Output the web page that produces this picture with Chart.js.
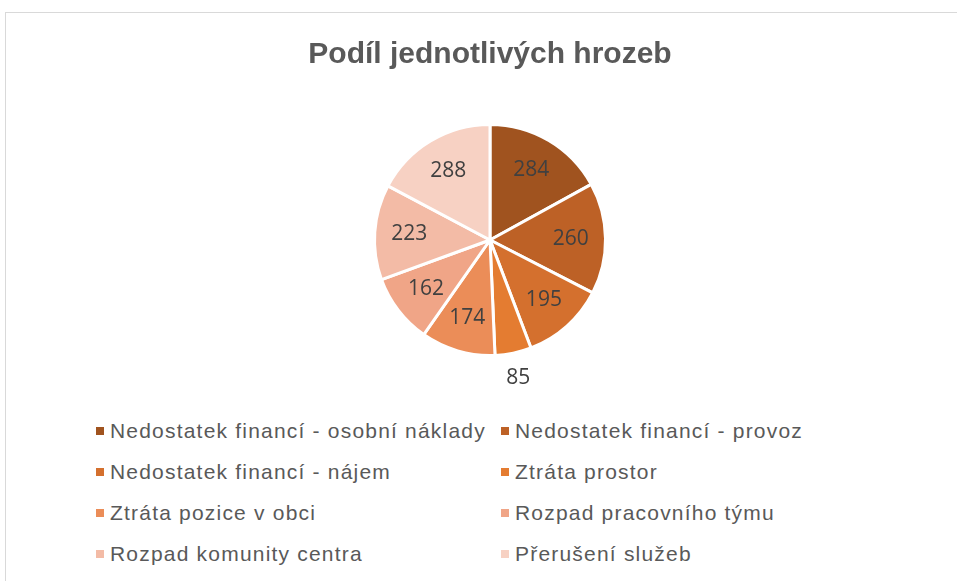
<!DOCTYPE html>
<html lang="cs">
<head>
<meta charset="utf-8">
<title>Podíl jednotlivých hrozeb</title>
<script src="https://cdn.jsdelivr.net/npm/chart.js@4.4.0/dist/chart.umd.min.js"></script>
<style>
  html, body { margin: 0; padding: 0; background: #fff; overflow: hidden; width: 957px; height: 581px; }
  #frame { position: absolute; left: 5px; top: 12px; width: 970px; height: 600px; border: 1px solid #d9d9d9; box-sizing: border-box; }
  #wrap { position: absolute; left: 0; top: 0; width: 968px; height: 386px; }
  #legend { position: absolute; left: 90px; top: 397px; display: grid; grid-template-columns: 405px auto; grid-auto-rows: 41px;
            font-family: "Liberation Sans", Arial, sans-serif; font-size: 21px; letter-spacing: 1.2px; color: #595959; }
  #legend div { display: flex; align-items: center; white-space: nowrap; }
  #legend span.box { display: inline-block; width: 8px; height: 8px; margin-right: 6px; }
</style>
</head>
<body>
<div id="frame">
  <div id="wrap"><canvas id="chart"></canvas></div>
  <div id="legend"></div>
</div>
<script>
const labels = [
  'Nedostatek financí - osobní náklady',
  'Nedostatek financí - provoz',
  'Nedostatek financí - nájem',
  'Ztráta prostor',
  'Ztráta pozice v obci',
  'Rozpad pracovního týmu',
  'Rozpad komunity centra',
  'Přerušení služeb'
];
const values = [284, 260, 195, 85, 174, 162, 223, 288];
const colors = ['#a0531f', '#bd6126', '#d4702e', '#e47c31', '#eb8d58', '#f0a587', '#f3bba6', '#f7d1c3'];

// numbers on the slices, small slices get the label outside
const sliceLabels = {
  id: 'sliceLabels',
  afterDatasetsDraw(chart) {
    const ctx = chart.ctx;
    const data = chart.data.datasets[0].data;
    const total = data.reduce((a, b) => a + b, 0);
    ctx.save();
    ctx.font = '21px "Open Sans", "Liberation Sans", sans-serif';
    ctx.fillStyle = '#404040';
    ctx.textAlign = 'center';
    ctx.textBaseline = 'middle';
    chart.getDatasetMeta(0).data.forEach((arc, i) => {
      const p = arc.getProps(['x', 'y', 'startAngle', 'endAngle', 'outerRadius'], true);
      const mid = (p.startAngle + p.endAngle) / 2;
      const r = data[i] / total < 0.07 ? p.outerRadius + 25 : p.outerRadius * 0.7;
      ctx.fillText(String(data[i]), p.x + Math.cos(mid) * r, p.y + Math.sin(mid) * r);
    });
    ctx.restore();
  }
};

const chart = new Chart(document.getElementById('chart'), {
  type: 'pie',
  data: {
    labels: labels,
    datasets: [{
      data: values,
      backgroundColor: colors,
      borderColor: '#ffffff',
      borderWidth: 3,
      hoverOffset: 0
    }]
  },
  options: {
    responsive: true,
    maintainAspectRatio: false,
    animation: false,
    layout: { padding: { bottom: 42 } },
    plugins: {
      legend: { display: false },
      tooltip: { enabled: false },
      title: {
        display: true,
        text: 'Podíl jednotlivých hrozeb',
        color: '#595959',
        font: { family: '"Liberation Sans", Arial, sans-serif', size: 30, weight: 'bold' },
        padding: { top: 24, bottom: 50 }
      }
    }
  },
  plugins: [sliceLabels]
});

// two-column legend like the original
const legendEl = document.getElementById('legend');
labels.forEach((name, i) => {
  const item = document.createElement('div');
  item.innerHTML = '<span class="box" style="background:' + colors[i] + '"></span>' + name;
  legendEl.appendChild(item);
});
</script>
</body>
</html>
